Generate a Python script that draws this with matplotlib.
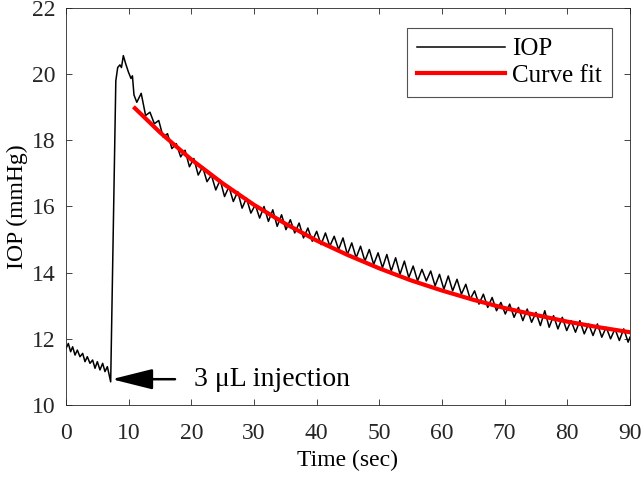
import matplotlib
matplotlib.use("Agg")
import matplotlib.pyplot as plt

plt.rcParams['font.family'] = ['Liberation Serif', 'DejaVu Serif']

# IOP trace before and during the injection (time in sec, pressure in mmHg)
t_pre = [0.0, 0.37, 0.74, 1.06, 1.44, 1.81, 2.23, 2.66, 3.03, 3.4, 3.83, 4.25,
         4.63, 5.0, 5.42, 5.85, 6.22, 6.6, 7.13, 7.55, 7.95, 8.25, 8.6, 8.85,
         9.15, 9.5, 9.95, 10.37, 10.6, 10.85]
iop_pre = [11.71, 11.86, 11.61, 11.76, 11.51, 11.66, 11.46, 11.56, 11.31, 11.46,
           11.26, 11.36, 11.11, 11.31, 11.06, 11.26, 11.01, 11.16, 10.70, 15.3,
           19.8, 20.2, 20.28, 20.2, 20.56, 20.33, 20.07, 19.87, 19.95, 19.37]

# IOP trace during the decay (peaks and troughs of the pulse)
t_post = [11.3, 12.0, 12.7, 13.4, 14.1, 14.8, 15.5, 16.2, 16.9, 17.6, 18.3, 19.0,
          19.7, 20.4, 21.1, 21.8, 22.5, 23.2, 23.9, 24.6, 25.3, 26.0, 26.7, 27.4,
          28.1, 28.8, 29.5, 30.2, 30.9, 31.6, 32.3, 33.0, 33.7, 34.4, 35.1, 35.8,
          36.5, 37.2, 37.9, 38.6, 39.3, 40.0, 40.7, 41.4, 42.1, 42.8, 43.5, 44.2,
          44.9, 45.6, 46.3, 47.0, 47.7, 48.4, 49.1, 49.8, 50.5, 51.2, 51.9, 52.6,
          53.3, 54.0, 54.7, 55.4, 56.1, 56.8, 57.5, 58.2, 58.9, 59.6, 60.3, 61.0,
          61.7, 62.4, 63.1, 63.8, 64.5, 65.2, 65.9, 66.6, 67.3, 68.0, 68.7, 69.4,
          70.1, 70.8, 71.5, 72.2, 72.9, 73.6, 74.3, 75.0, 75.7, 76.4, 77.1, 77.8,
          78.5, 79.2, 79.9, 80.6, 81.3, 82.0, 82.7, 83.4, 84.1, 84.8, 85.5, 86.2,
          86.9, 87.6, 88.3, 89.0, 89.7, 90.0]
iop_post = [19.15, 19.42, 18.75, 18.85, 18.50, 18.60, 18.10, 18.20, 17.75, 17.90,
            17.50, 17.70, 17.20, 17.45, 16.95, 17.20, 16.75, 16.95, 16.50, 16.80,
            16.30, 16.60, 16.15, 16.45, 15.95, 16.25, 15.80, 16.05, 15.65, 16.00,
            15.55, 15.90, 15.40, 15.75, 15.30, 15.60, 15.20, 15.50, 15.05, 15.35,
            14.95, 15.25, 14.85, 15.20, 14.80, 15.10, 14.70, 15.05, 14.55, 14.90,
            14.45, 14.80, 14.35, 14.70, 14.25, 14.60, 14.15, 14.55, 14.05, 14.45,
            13.95, 14.35, 13.85, 14.20, 13.75, 14.10, 13.75, 14.05, 13.60, 13.95,
            13.50, 13.90, 13.45, 13.80, 13.35, 13.65, 13.20, 13.45, 13.05, 13.35,
            12.95, 13.25, 12.85, 13.10, 12.75, 13.05, 12.65, 12.95, 12.55, 12.90,
            12.50, 12.80, 12.40, 12.85, 12.35, 12.70, 12.30, 12.65, 12.25, 12.55,
            12.20, 12.55, 12.15, 12.45, 12.10, 12.45, 12.05, 12.35, 12.00, 12.30,
            11.95, 12.30, 11.90, 12.05]

# exponential curve fit
t_fit = [11, 15, 20, 25, 30, 35, 40, 45, 50, 55, 60, 65, 70, 75, 80, 85, 90]
iop_fit = [18.97, 18.24, 17.42, 16.70, 16.05, 15.48, 14.97, 14.53, 14.13, 13.77,
           13.46, 13.18, 12.93, 12.72, 12.52, 12.35, 12.20]

t_iop = t_pre + t_post
iop = iop_pre + iop_post

fig = plt.figure(figsize=(6.42, 4.78), dpi=100)
ax = fig.add_axes([0.1028, 0.1527, 0.8785, 0.8306])

ax.plot(t_iop, iop, color='black', linewidth=1.1, label='IOP')
ax.plot(t_fit, iop_fit, color='red', linewidth=3.0, label='Curve fit')

ax.set_xlim(0, 90)
ax.set_ylim(10, 22)
ax.set_xticks(range(0, 91, 10))
ax.set_yticks(range(10, 23, 2))
ax.tick_params(direction='in', top=True, right=True, length=4.5, width=0.6,
               labelsize=17, colors='#262626')
ax.tick_params(axis='x', pad=13)
ax.tick_params(axis='y', pad=7.5)
for s in ax.spines.values():
    s.set_linewidth(0.6)
    s.set_color('#262626')

ax.set_xlabel('Time (sec)', fontsize=17, labelpad=4)
ax.set_ylabel('IOP (mmHg)', fontsize=17, labelpad=3)

ax.annotate('3 \u03bcL injection', xy=(7.3, 10.78), xytext=(20.5, 10.78),
            fontsize=20, va='center', ha='left',
            arrowprops=dict(arrowstyle='-|>,head_length=1.4,head_width=0.35',
                            color='black', lw=1.8, mutation_scale=18,
                            shrinkA=12, shrinkB=0))

leg = ax.legend(loc='upper right', fontsize=18, frameon=True, fancybox=False,
                edgecolor='#262626', handlelength=3.5, borderpad=0.4,
                labelspacing=0.15, handletextpad=0.3,
                bbox_to_anchor=(0.968, 0.95), borderaxespad=0)
leg.get_frame().set_linewidth(0.8)

fig.savefig('out.png', dpi=100)
